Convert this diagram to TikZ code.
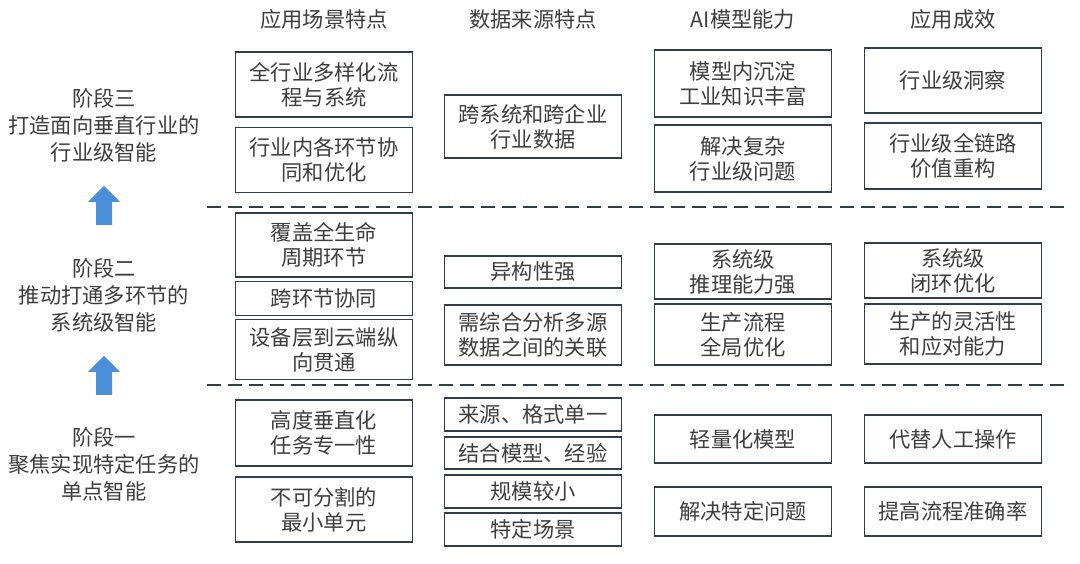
\documentclass[tikz,border=0pt]{standalone}
\usepackage{fontspec}
\setmainfont{Noto Sans CJK SC}
\usetikzlibrary{positioning}
\definecolor{stageEdge}{HTML}{2F3E48}
\definecolor{stageText}{HTML}{3E3E3E}
\definecolor{stageBlue}{HTML}{4A8FD8}

\begin{document}
\begin{tikzpicture}[x=0.02cm,y=-0.02cm,
  cellbox/.style={draw=stageEdge,line width=1.1pt,text=stageText,align=center,minimum width=3.54cm,minimum height=#1,inner sep=0pt,font=\fontsize{12.1}{14.2}\selectfont},
  colhead/.style={text=stageText,font=\fontsize{12.1}{14.2}\selectfont},
  stagelabel/.style={text=stageText,align=center,font=\fontsize{12.1}{15.4}\selectfont},
  stagesep/.style={draw=stageEdge,line width=1.2pt,dash pattern=on 8pt off 4pt},
  upblock/.pic={\fill[stageBlue] (0,0) -- (16,16) -- (8,16) -- (8,39) -- (-8,39) -- (-8,16) -- (-16,16) -- cycle;}]
\fill[white] (0,0) rectangle (1080,564);
\useasboundingbox (0,0) rectangle (1080,564);

\node[colhead] (hScene) at (324,19) {应用场景特点};
\node[colhead] (hData) at (533,19) {数据来源特点};
\node[colhead] (hModel) at (743,19) {AI模型能力};
\node[colhead] (hEffect) at (953,19) {应用成效};

\node[stagelabel] (stageThree) at (104,125) {阶段三\\打造面向垂直行业的\\行业级智能};
\node[stagelabel] (stageTwo) at (104,295) {阶段二\\推动打通多环节的\\系统级智能};
\node[stagelabel] (stageOne) at (104,464) {阶段一\\聚焦实现特定任务的\\单点智能};
\pic at (104,186) {upblock};
\pic at (104,356) {upblock};

\coordinate (sepTopL) at (207,207);
\coordinate (sepTopR) at (1064,207);
\coordinate (sepLowL) at (207,385);
\coordinate (sepLowR) at (1064,385);
\draw[stagesep] (sepTopL) -- (sepTopR);
\draw[stagesep] (sepLowL) -- (sepLowR);

\node[cellbox=1.3cm] (sceneThreeA) at (324,84.5) {全行业多样化流\\程与系统};
\node[cellbox=1.3cm] (sceneThreeB) at (324,160) {行业内各环节协\\同和优化};
\node[cellbox=1.28cm] (sceneTwoA) at (324,245) {覆盖全生命\\周期环节};
\node[cellbox=0.68cm] (sceneTwoB) at (324,298.5) {跨环节协同};
\node[cellbox=1.2cm] (sceneTwoC) at (324,349.5) {设备层到云端纵\\向贯通};
\node[cellbox=1.32cm] (sceneOneA) at (324,433) {高度垂直化\\任务专一性};
\node[cellbox=1.3cm] (sceneOneB) at (324,509.5) {不可分割的\\最小单元};

\node[cellbox=1.26cm] (dataThree) at (533,126.5) {跨系统和跨企业\\行业数据};
\node[cellbox=0.64cm] (dataTwoA) at (533,272) {异构性强};
\node[cellbox=1.2cm] (dataTwoB) at (533,335) {需综合分析多源\\数据之间的关联};
\node[cellbox=0.66cm] (dataOneA) at (533,414.5) {来源、格式单一};
\node[cellbox=0.64cm] (dataOneB) at (533,453) {结合模型、经验};
\node[cellbox=0.66cm] (dataOneC) at (533,491.5) {规模较小};
\node[cellbox=0.66cm] (dataOneD) at (533,529.5) {特定场景};

\node[cellbox=1.34cm] (modelThreeA) at (743,83.5) {模型内沉淀\\工业知识丰富};
\node[cellbox=1.34cm] (modelThreeB) at (743,158.5) {解决复杂\\行业级问题};
\node[cellbox=1.1cm] (modelTwoA) at (743,271.5) {系统级\\推理能力强};
\node[cellbox=1.22cm] (modelTwoB) at (743,334.5) {生产流程\\全局优化};
\node[cellbox=0.96cm] (modelOneA) at (743,439) {轻量化模型};
\node[cellbox=0.98cm] (modelOneB) at (743,511.5) {解决特定问题};

\node[cellbox=1.3cm] (effectThreeA) at (953,80.5) {行业级洞察};
\node[cellbox=1.32cm] (effectThreeB) at (953,156) {行业级全链路\\价值重构};
\node[cellbox=1.1cm] (effectTwoA) at (953,270.5) {系统级\\闭环优化};
\node[cellbox=1.2cm] (effectTwoB) at (953,334) {生产的灵活性\\和应对能力};
\node[cellbox=0.96cm] (effectOneA) at (953,439) {代替人工操作};
\node[cellbox=0.98cm] (effectOneB) at (953,511.5) {提高流程准确率};
\end{tikzpicture}
\end{document}
